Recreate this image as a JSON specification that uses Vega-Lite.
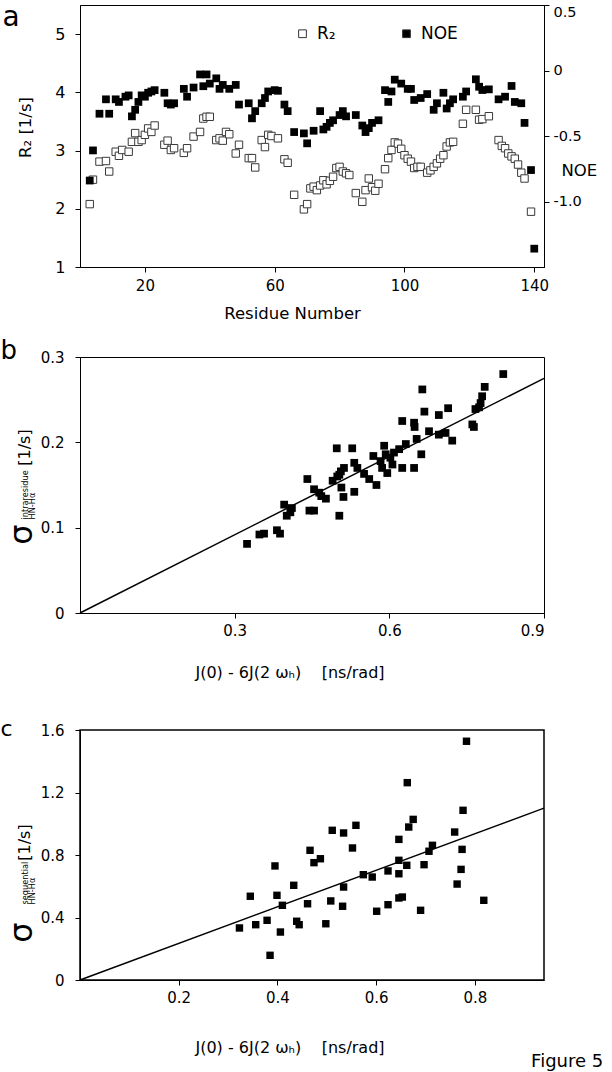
{
  "$schema": "https://vega.github.io/schema/vega-lite/v6.json",
  "padding": {"left": -1, "top": 2, "right": 0, "bottom": 0},
  "background": "white",
  "spacing": 14,
  "config": {
    "font": "DejaVu Sans",
    "view": {"stroke": "black", "strokeWidth": 1},
    "axis": {"grid": false, "domainColor": "black", "tickColor": "black", "labelColor": "black", "titleColor": "black", "labelFont": "DejaVu Sans", "titleFont": "DejaVu Sans", "labelFontSize": 15, "tickSize": 5, "titleFontWeight": "normal", "domainWidth": 1, "tickWidth": 1},
    "legend": {"labelFont": "DejaVu Sans", "labelColor": "black"},
    "title": {"font": "DejaVu Sans", "fontWeight": "normal", "color": "black"}
  },
  "title": {"text": "Figure 5", "orient": "bottom", "anchor": "end", "fontSize": 18, "offset": -4, "dx": 6},
  "datasets": {
    "r2": [
      {"residue": 3, "value": 2.08}, {"residue": 4, "value": 2.5}, {"residue": 6, "value": 2.81}, {"residue": 8, "value": 2.82}, {"residue": 9, "value": 2.64},
      {"residue": 11, "value": 2.98}, {"residue": 12, "value": 2.91}, {"residue": 13, "value": 3.01}, {"residue": 15, "value": 2.98}, {"residue": 16, "value": 3.15},
      {"residue": 17, "value": 3.3}, {"residue": 18, "value": 3.15}, {"residue": 19, "value": 3.18}, {"residue": 20, "value": 3.27}, {"residue": 21, "value": 3.38},
      {"residue": 22, "value": 3.32}, {"residue": 23, "value": 3.43}, {"residue": 26, "value": 3.1}, {"residue": 27, "value": 3.17}, {"residue": 28, "value": 3.01},
      {"residue": 29, "value": 3.04}, {"residue": 32, "value": 2.96}, {"residue": 33, "value": 3.04}, {"residue": 35, "value": 3.24}, {"residue": 37, "value": 3.32},
      {"residue": 38, "value": 3.55}, {"residue": 39, "value": 3.58}, {"residue": 40, "value": 3.58}, {"residue": 42, "value": 3.18}, {"residue": 43, "value": 3.21},
      {"residue": 44, "value": 3.17}, {"residue": 45, "value": 3.32}, {"residue": 46, "value": 3.28}, {"residue": 48, "value": 2.95}, {"residue": 49, "value": 3.1},
      {"residue": 52, "value": 2.87}, {"residue": 53, "value": 2.87}, {"residue": 54, "value": 2.71}, {"residue": 56, "value": 3.18}, {"residue": 57, "value": 3.06},
      {"residue": 58, "value": 3.27}, {"residue": 59, "value": 3.25}, {"residue": 61, "value": 3.21}, {"residue": 63, "value": 2.85}, {"residue": 64, "value": 2.79},
      {"residue": 66, "value": 2.24}, {"residue": 69, "value": 1.99}, {"residue": 70, "value": 2.08}, {"residue": 71, "value": 2.35}, {"residue": 72, "value": 2.38},
      {"residue": 73, "value": 2.32}, {"residue": 74, "value": 2.4}, {"residue": 75, "value": 2.49}, {"residue": 76, "value": 2.42}, {"residue": 77, "value": 2.48},
      {"residue": 78, "value": 2.55}, {"residue": 79, "value": 2.7}, {"residue": 80, "value": 2.72}, {"residue": 81, "value": 2.64}, {"residue": 82, "value": 2.61},
      {"residue": 83, "value": 2.58}, {"residue": 85, "value": 2.27}, {"residue": 87, "value": 2.12}, {"residue": 88, "value": 2.32}, {"residue": 89, "value": 2.52},
      {"residue": 90, "value": 2.37}, {"residue": 91, "value": 2.31}, {"residue": 92, "value": 2.43}, {"residue": 94, "value": 2.68}, {"residue": 95, "value": 2.87},
      {"residue": 96, "value": 3.01}, {"residue": 97, "value": 3.14}, {"residue": 98, "value": 3.12}, {"residue": 99, "value": 3.03}, {"residue": 100, "value": 2.92},
      {"residue": 101, "value": 2.86}, {"residue": 102, "value": 2.81}, {"residue": 103, "value": 2.7}, {"residue": 104, "value": 2.72}, {"residue": 105, "value": 2.72},
      {"residue": 107, "value": 2.62}, {"residue": 108, "value": 2.66}, {"residue": 109, "value": 2.72}, {"residue": 110, "value": 2.78}, {"residue": 111, "value": 2.86},
      {"residue": 112, "value": 2.92}, {"residue": 113, "value": 3.07}, {"residue": 114, "value": 3.14}, {"residue": 115, "value": 3.15}, {"residue": 118, "value": 3.46},
      {"residue": 119, "value": 3.7}, {"residue": 122, "value": 3.7}, {"residue": 123, "value": 3.53}, {"residue": 124, "value": 3.54}, {"residue": 126, "value": 3.59},
      {"residue": 129, "value": 3.18}, {"residue": 130, "value": 3.08}, {"residue": 131, "value": 3.04}, {"residue": 132, "value": 2.95}, {"residue": 133, "value": 2.9},
      {"residue": 134, "value": 2.86}, {"residue": 135, "value": 2.76}, {"residue": 136, "value": 2.62}, {"residue": 137, "value": 2.52}, {"residue": 139, "value": 1.95}
    ],
    "noe": [
      {"residue": 3, "value": -0.84}, {"residue": 4, "value": -0.61}, {"residue": 6, "value": -0.33}, {"residue": 8, "value": -0.22}, {"residue": 9, "value": -0.33},
      {"residue": 11, "value": -0.22}, {"residue": 12, "value": -0.24}, {"residue": 14, "value": -0.2}, {"residue": 15, "value": -0.19}, {"residue": 16, "value": -0.35},
      {"residue": 17, "value": -0.3}, {"residue": 18, "value": -0.24}, {"residue": 19, "value": -0.19}, {"residue": 20, "value": -0.2}, {"residue": 21, "value": -0.17},
      {"residue": 22, "value": -0.16}, {"residue": 23, "value": -0.15}, {"residue": 26, "value": -0.17}, {"residue": 27, "value": -0.25}, {"residue": 28, "value": -0.26},
      {"residue": 29, "value": -0.25}, {"residue": 32, "value": -0.14}, {"residue": 33, "value": -0.2}, {"residue": 35, "value": -0.13}, {"residue": 37, "value": -0.03},
      {"residue": 38, "value": -0.12}, {"residue": 39, "value": -0.03}, {"residue": 40, "value": -0.1}, {"residue": 42, "value": -0.06}, {"residue": 43, "value": -0.14},
      {"residue": 44, "value": -0.11}, {"residue": 46, "value": -0.14}, {"residue": 48, "value": -0.11}, {"residue": 49, "value": -0.26}, {"residue": 52, "value": -0.25},
      {"residue": 53, "value": -0.365}, {"residue": 54, "value": -0.31}, {"residue": 56, "value": -0.25}, {"residue": 57, "value": -0.21}, {"residue": 58, "value": -0.16},
      {"residue": 60, "value": -0.15}, {"residue": 61, "value": -0.155}, {"residue": 63, "value": -0.26}, {"residue": 64, "value": -0.31}, {"residue": 66, "value": -0.47},
      {"residue": 69, "value": -0.48}, {"residue": 70, "value": -0.556}, {"residue": 72, "value": -0.46}, {"residue": 74, "value": -0.31}, {"residue": 75, "value": -0.45},
      {"residue": 76, "value": -0.43}, {"residue": 77, "value": -0.4}, {"residue": 78, "value": -0.38}, {"residue": 80, "value": -0.34}, {"residue": 81, "value": -0.31},
      {"residue": 82, "value": -0.35}, {"residue": 85, "value": -0.34}, {"residue": 87, "value": -0.42}, {"residue": 88, "value": -0.47}, {"residue": 89, "value": -0.44},
      {"residue": 90, "value": -0.4}, {"residue": 92, "value": -0.38}, {"residue": 94, "value": -0.15}, {"residue": 95, "value": -0.24}, {"residue": 96, "value": -0.16},
      {"residue": 97, "value": -0.07}, {"residue": 99, "value": -0.1}, {"residue": 101, "value": -0.14}, {"residue": 102, "value": -0.14}, {"residue": 103, "value": -0.225},
      {"residue": 105, "value": -0.21}, {"residue": 107, "value": -0.18}, {"residue": 109, "value": -0.3}, {"residue": 110, "value": -0.25}, {"residue": 112, "value": -0.17},
      {"residue": 113, "value": -0.29}, {"residue": 114, "value": -0.25}, {"residue": 115, "value": -0.22}, {"residue": 118, "value": -0.2}, {"residue": 119, "value": -0.16},
      {"residue": 122, "value": -0.067}, {"residue": 123, "value": -0.124}, {"residue": 124, "value": -0.149}, {"residue": 126, "value": -0.144}, {"residue": 129, "value": -0.22},
      {"residue": 131, "value": -0.2}, {"residue": 133, "value": -0.118}, {"residue": 134, "value": -0.24}, {"residue": 136, "value": -0.25}, {"residue": 137, "value": -0.4},
      {"residue": 139, "value": -0.76}, {"residue": 140, "value": -1.36}
    ],
    "intra": [
      {"j": 0.324, "sigma": 0.081}, {"j": 0.348, "sigma": 0.092}, {"j": 0.357, "sigma": 0.093}, {"j": 0.382, "sigma": 0.097}, {"j": 0.388, "sigma": 0.093},
      {"j": 0.396, "sigma": 0.127}, {"j": 0.401, "sigma": 0.114}, {"j": 0.411, "sigma": 0.123}, {"j": 0.408, "sigma": 0.118}, {"j": 0.441, "sigma": 0.157},
      {"j": 0.445, "sigma": 0.12}, {"j": 0.454, "sigma": 0.12}, {"j": 0.454, "sigma": 0.145}, {"j": 0.464, "sigma": 0.141}, {"j": 0.468, "sigma": 0.137},
      {"j": 0.477, "sigma": 0.134}, {"j": 0.49, "sigma": 0.155}, {"j": 0.499, "sigma": 0.16}, {"j": 0.506, "sigma": 0.166}, {"j": 0.512, "sigma": 0.17},
      {"j": 0.498, "sigma": 0.193}, {"j": 0.528, "sigma": 0.193}, {"j": 0.503, "sigma": 0.114}, {"j": 0.507, "sigma": 0.147}, {"j": 0.511, "sigma": 0.136},
      {"j": 0.503, "sigma": 0.162}, {"j": 0.532, "sigma": 0.142}, {"j": 0.532, "sigma": 0.176}, {"j": 0.538, "sigma": 0.17}, {"j": 0.551, "sigma": 0.163},
      {"j": 0.561, "sigma": 0.157}, {"j": 0.575, "sigma": 0.15}, {"j": 0.569, "sigma": 0.184}, {"j": 0.583, "sigma": 0.178}, {"j": 0.59, "sigma": 0.196},
      {"j": 0.593, "sigma": 0.186}, {"j": 0.586, "sigma": 0.17}, {"j": 0.596, "sigma": 0.164}, {"j": 0.602, "sigma": 0.182}, {"j": 0.606, "sigma": 0.174},
      {"j": 0.609, "sigma": 0.188}, {"j": 0.619, "sigma": 0.192}, {"j": 0.632, "sigma": 0.198}, {"j": 0.625, "sigma": 0.225}, {"j": 0.648, "sigma": 0.223},
      {"j": 0.649, "sigma": 0.218}, {"j": 0.625, "sigma": 0.17}, {"j": 0.648, "sigma": 0.17}, {"j": 0.653, "sigma": 0.204}, {"j": 0.662, "sigma": 0.186},
      {"j": 0.664, "sigma": 0.262}, {"j": 0.668, "sigma": 0.236}, {"j": 0.677, "sigma": 0.213}, {"j": 0.696, "sigma": 0.232}, {"j": 0.714, "sigma": 0.24},
      {"j": 0.696, "sigma": 0.209}, {"j": 0.709, "sigma": 0.211}, {"j": 0.722, "sigma": 0.202}, {"j": 0.761, "sigma": 0.221}, {"j": 0.764, "sigma": 0.218},
      {"j": 0.767, "sigma": 0.239}, {"j": 0.774, "sigma": 0.241}, {"j": 0.777, "sigma": 0.246}, {"j": 0.78, "sigma": 0.254}, {"j": 0.785, "sigma": 0.265},
      {"j": 0.821, "sigma": 0.28}
    ],
    "fitb": [{"j": 0, "sigma": 0}, {"j": 0.9, "sigma": 0.275}],
    "seq": [
      {"j": 0.323, "sigma": 0.333}, {"j": 0.356, "sigma": 0.354}, {"j": 0.345, "sigma": 0.536}, {"j": 0.379, "sigma": 0.382}, {"j": 0.385, "sigma": 0.158},
      {"j": 0.395, "sigma": 0.73}, {"j": 0.399, "sigma": 0.542}, {"j": 0.406, "sigma": 0.307}, {"j": 0.41, "sigma": 0.478}, {"j": 0.433, "sigma": 0.606},
      {"j": 0.439, "sigma": 0.376}, {"j": 0.444, "sigma": 0.354}, {"j": 0.461, "sigma": 0.488}, {"j": 0.466, "sigma": 0.83}, {"j": 0.474, "sigma": 0.751},
      {"j": 0.487, "sigma": 0.776}, {"j": 0.498, "sigma": 0.36}, {"j": 0.508, "sigma": 0.506}, {"j": 0.511, "sigma": 0.958}, {"j": 0.532, "sigma": 0.472},
      {"j": 0.534, "sigma": 0.595}, {"j": 0.534, "sigma": 0.941}, {"j": 0.552, "sigma": 0.845}, {"j": 0.559, "sigma": 0.99}, {"j": 0.574, "sigma": 0.674},
      {"j": 0.592, "sigma": 0.659}, {"j": 0.601, "sigma": 0.44}, {"j": 0.624, "sigma": 0.698}, {"j": 0.624, "sigma": 0.482}, {"j": 0.646, "sigma": 0.9},
      {"j": 0.646, "sigma": 0.766}, {"j": 0.646, "sigma": 0.68}, {"j": 0.646, "sigma": 0.525}, {"j": 0.653, "sigma": 0.531}, {"j": 0.662, "sigma": 0.734},
      {"j": 0.663, "sigma": 1.263}, {"j": 0.666, "sigma": 0.979}, {"j": 0.675, "sigma": 1.028}, {"j": 0.69, "sigma": 0.446}, {"j": 0.697, "sigma": 0.738},
      {"j": 0.707, "sigma": 0.824}, {"j": 0.714, "sigma": 0.862}, {"j": 0.759, "sigma": 0.947}, {"j": 0.764, "sigma": 0.614}, {"j": 0.772, "sigma": 0.708},
      {"j": 0.774, "sigma": 0.836}, {"j": 0.776, "sigma": 1.086}, {"j": 0.783, "sigma": 1.528}, {"j": 0.818, "sigma": 0.51}
    ],
    "fitc": [{"j": 0, "sigma": 0}, {"j": 0.94, "sigma": 1.1}]
  },
  "vconcat": [
    {
      "width": 464,
      "height": 262,
      "layer": [
        {
          "data": {"name": "r2"},
          "mark": {"type": "square", "size": 55, "stroke": "#3a3a3a", "strokeWidth": 1, "opacity": 1},
          "encoding": {
            "x": {"field": "residue", "type": "quantitative", "scale": {"domain": [0, 143], "nice": false, "zero": false},
              "axis": {"values": [20, 60, 100, 140], "title": "Residue Number", "titleFontSize": 16.5, "labelFontSize": 15, "labelPadding": 6, "titleX": 212, "titleY": 51, "titleBaseline": "alphabetic", "titleAlign": "center"}},
            "y": {"field": "value", "type": "quantitative", "scale": {"domain": [1, 5.5], "nice": false, "zero": false},
              "axis": {"values": [1, 2, 3, 4, 5], "title": "R₂ [1/s]", "titleFontSize": 16.5, "labelFontSize": 16, "labelPadding": 10, "titleX": -50, "titleY": 122, "titleBaseline": "alphabetic", "titleAlign": "center", "titleAngle": -90}},
            "fill": {"datum": "R₂", "type": "nominal", "scale": {"domain": ["R₂", "NOE"], "range": ["white", "black"]},
              "legend": {"orient": "none", "legendX": 214, "legendY": 20, "direction": "horizontal", "title": null, "symbolType": "square", "symbolSize": 60, "symbolStrokeColor": "#333333", "symbolStrokeWidth": 1, "labelFontSize": 17, "labelOffset": 6, "columnPadding": 62}}
          }
        },
        {
          "data": {"name": "noe"},
          "mark": {"type": "square", "size": 60, "opacity": 1},
          "encoding": {
            "x": {"field": "residue", "type": "quantitative",
              "axis": {"orient": "top", "labels": false, "ticks": false, "domain": false, "title": "a", "titleFontSize": 28, "titleX": -78, "titleY": 20, "titleAlign": "left", "titleBaseline": "alphabetic", "titleAngle": 0}},
            "y": {"field": "value", "type": "quantitative", "scale": {"domain": [-1.5, 0.5], "nice": false, "zero": false},
              "axis": {"orient": "right", "values": [-1, -0.5, 0, 0.5], "labelExpr": "datum.value == 0 ? '0' : (datum.value < 0 ? '-' : '') + format(abs(datum.value), '.1f')", "labelFlush": true, "labelFontSize": 14.5, "labelPadding": 4, "title": "NOE", "titleAngle": 0, "titleX": 17, "titleY": 165, "titleAlign": "left", "titleBaseline": "middle", "titleFontSize": 16.5}},
            "fill": {"datum": "NOE", "type": "nominal"}
          }
        }
      ],
      "resolve": {"scale": {"y": "independent"}, "axis": {"x": "independent", "y": "independent"}}
    },
    {
      "width": 464,
      "height": 256,
      "title": {"text": "J(0) - 6J(2 ωₕ)\u00a0\u00a0\u00a0\u00a0[ns/rad]", "orient": "bottom", "anchor": "middle", "frame": "group", "fontSize": 16, "offset": 27, "dx": -22},
      "layer": [
        {
          "data": {"name": "intra"},
          "mark": {"type": "square", "size": 60, "color": "black", "opacity": 1},
          "encoding": {
            "x": {"field": "j", "type": "quantitative", "scale": {"domain": [0, 0.9], "nice": false, "zero": false},
              "axis": {"values": [0.3, 0.6, 0.9], "format": ".1f", "labelPadding": 5, "title": ["intraresidue", "HN-Hα"], "titleFontSize": 8.2, "titleLineHeight": 7, "titleAngle": -90, "titleX": -53, "titleY": -94, "titleAlign": "left", "titleBaseline": "alphabetic"}},
            "y": {"field": "sigma", "type": "quantitative", "scale": {"domain": [0, 0.3], "nice": false, "zero": false},
              "axis": {"values": [0, 0.1, 0.2, 0.3], "labelExpr": "datum.value == 0 ? '0' : format(datum.value, '.1f')", "labelPadding": 11, "title": "[1/s]", "titleFontSize": 16, "titleX": -51, "titleY": 90, "titleBaseline": "alphabetic", "titleAlign": "center", "titleAngle": -90}}
          }
        },
        {
          "data": {"name": "fitb"},
          "mark": {"type": "line", "color": "black", "strokeWidth": 1.5},
          "encoding": {
            "x": {"field": "j", "type": "quantitative",
              "axis": {"orient": "top", "labels": false, "ticks": false, "domain": false, "title": "b", "titleFontSize": 26, "titleX": -80, "titleY": 1, "titleAlign": "left", "titleBaseline": "alphabetic", "titleAngle": 0}},
            "y": {"field": "sigma", "type": "quantitative",
              "axis": {"orient": "left", "labels": false, "ticks": false, "domain": false, "title": "σ", "titleFontSize": 32, "titleX": -49, "titleY": 177, "titleAlign": "center", "titleBaseline": "alphabetic", "titleAngle": -90}}
          }
        }
      ],
      "resolve": {"axis": {"x": "independent", "y": "independent"}}
    },
    {
      "width": 464,
      "height": 250,
      "view": {"stroke": "black", "strokeWidth": 1.5},
      "title": {"text": "J(0) - 6J(2 ωₕ)\u00a0\u00a0\u00a0\u00a0[ns/rad]", "orient": "bottom", "anchor": "middle", "frame": "group", "fontSize": 16, "offset": 35, "dx": -22},
      "layer": [
        {
          "data": {"name": "seq"},
          "mark": {"type": "square", "size": 55, "color": "black", "opacity": 1},
          "encoding": {
            "x": {"field": "j", "type": "quantitative", "scale": {"domain": [0, 0.94], "nice": false, "zero": false},
              "axis": {"values": [0.2, 0.4, 0.6, 0.8], "format": ".1f", "labelPadding": 5, "title": ["sequential", "HN-Hα"], "titleFontSize": 8.2, "titleLineHeight": 7, "titleAngle": -90, "titleX": -53, "titleY": -76, "titleAlign": "left", "titleBaseline": "alphabetic"}},
            "y": {"field": "sigma", "type": "quantitative", "scale": {"domain": [0, 1.6], "nice": false, "zero": false},
              "axis": {"values": [0, 0.4, 0.8, 1.2, 1.6], "labelExpr": "datum.value == 0 ? '0' : format(datum.value, '.1f')", "labelPadding": 11, "title": "[1/s]", "titleFontSize": 16, "titleX": -51, "titleY": 112, "titleBaseline": "alphabetic", "titleAlign": "center", "titleAngle": -90}}
          }
        },
        {
          "data": {"name": "fitc"},
          "mark": {"type": "line", "color": "black", "strokeWidth": 1.5},
          "encoding": {
            "x": {"field": "j", "type": "quantitative",
              "axis": {"orient": "top", "labels": false, "ticks": false, "domain": false, "minExtent": 33, "title": "c", "titleFontSize": 22, "titleX": -80, "titleY": 5, "titleAlign": "left", "titleBaseline": "alphabetic", "titleAngle": 0}},
            "y": {"field": "sigma", "type": "quantitative",
              "axis": {"orient": "left", "labels": false, "ticks": false, "domain": false, "title": "σ", "titleFontSize": 32, "titleX": -49, "titleY": 202, "titleAlign": "center", "titleBaseline": "alphabetic", "titleAngle": -90}}
          }
        }
      ],
      "resolve": {"axis": {"x": "independent", "y": "independent"}}
    }
  ]
}
